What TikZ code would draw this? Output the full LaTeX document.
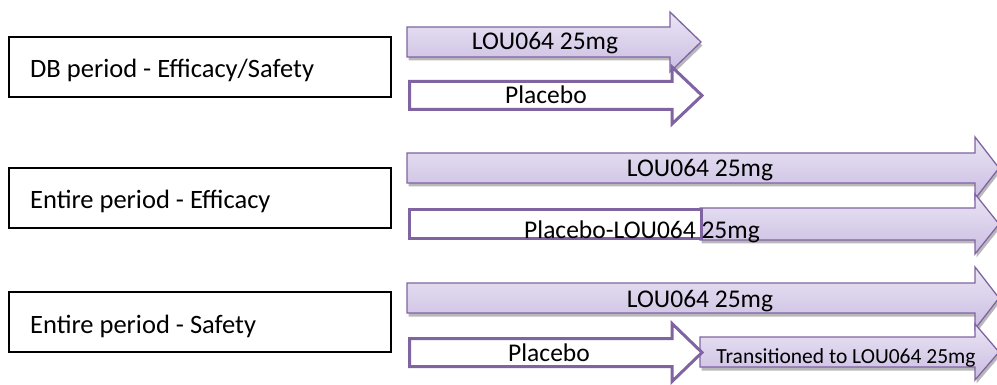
\documentclass[tikz,border=0pt]{standalone}
\usepackage{fontspec}
\setmainfont{Carlito}
\usetikzlibrary{shadows}
\definecolor{pborder}{HTML}{8064A2}
\definecolor{ptop}{HTML}{EAE5F4}
\definecolor{pbot}{HTML}{CABDE2}
% style, x start, x head start, x tip, y centre, half body, half head
\newcommand{\harrow}[7]{%
  \draw[#1] (#2,#5-#6) -- (#3,#5-#6) -- (#3,#5-#7) -- (#4,#5) -- (#3,#5+#7) -- (#3,#5+#6) -- (#2,#5+#6) -- cycle;}
\tikzset{
  leftbox/.style={draw=black, line width=1.6pt, fill=white, minimum width=382pt, minimum height=60pt, anchor=north west, inner sep=0pt},
  lefttext/.style={anchor=base west, inner sep=0pt, font=\fontsize{26.5}{31}\selectfont},
  filledarrow/.style={draw=pborder, line width=1.3pt, top color=ptop, bottom color=pbot, line join=miter,
     drop shadow={shadow xshift=1.5pt, shadow yshift=-3.5pt, fill=black, opacity=0.28}},
  hollowarrow/.style={draw=pborder, line width=3pt, fill=white, line join=miter},
  lbl/.style={anchor=base, inner sep=0pt, font=\fontsize{25.5}{30}\selectfont},
  smalllbl/.style={anchor=base, inner sep=0pt, font=\fontsize{21.5}{25}\selectfont}
}
\begin{document}
\begin{tikzpicture}[x=1pt, y=-1pt]
\useasboundingbox (0,0) rectangle (997,385);
\clip (0,0) rectangle (997,385);
\fill[white] (0,0) rectangle (997,385);

% left boxes
\node[leftbox] (b1) at (8,36) {};
\node[lefttext] (l1) at (30,78) {DB period - Efficacy/Safety};
\node[leftbox] (b2) at (8,167) {};
\node[lefttext] (l2) at (30,208) {Entire period - Efficacy};
\node[leftbox] (b3) at (8,291) {};
\node[lefttext] (l3) at (30,333) {Entire period - Safety};

% row 1
\harrow{filledarrow}{407}{670}{701}{42}{15}{30}
\harrow{hollowarrow}{409.5}{672}{702}{95.5}{14}{28.5}
\node[lbl] (t1) at (545,50) {LOU064 25mg};
\node[lbl] (t2) at (546,104) {Placebo};

% row 2
\harrow{filledarrow}{407}{975}{999}{168}{15}{31}
\harrow{filledarrow}{700}{975}{999}{224}{16}{30}
\draw[hollowarrow] (409.5,209.5) rectangle (701,238.5);
\node[lbl] (t3) at (700,177) {LOU064 25mg};
\node[lbl] (t4) at (642,238) {Placebo-LOU064 25mg};

% row 3
\harrow{filledarrow}{407}{975}{999}{298}{15}{31}
\harrow{filledarrow}{700}{975}{999}{352}{15}{28}
\harrow{hollowarrow}{409.5}{672}{702}{352.5}{14}{29}
\node[lbl] (t5) at (700,307) {LOU064 25mg};
\node[lbl] (t6) at (549,361) {Placebo};
\node[smalllbl] (t7) at (846,363) {Transitioned to LOU064 25mg};
\end{tikzpicture}
\end{document}
